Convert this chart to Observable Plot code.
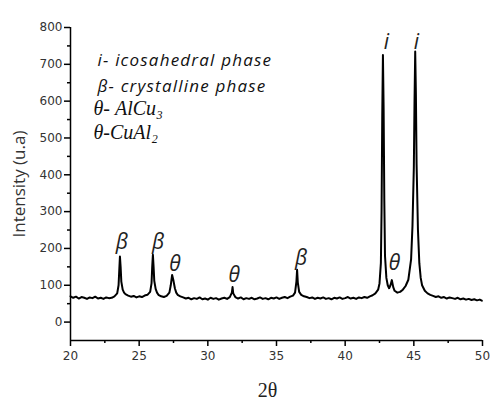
<!DOCTYPE html>
<html>
<head>
<meta charset="utf-8">
<script src="https://cdn.jsdelivr.net/npm/d3@7"></script>
<script src="https://cdn.jsdelivr.net/npm/@observablehq/plot@0.6"></script>
<style>
  html, body { margin: 0; padding: 0; background: #fff; }
  #chart { width: 500px; height: 412px; }
</style>
</head>
<body>
<div id="chart"></div>
<script>
const twoTheta = [
  20.0,20.2,20.4,20.6,20.8,21.0,21.2,21.4,21.6,21.8,22.0,22.2,22.4,22.6,22.8,23.0,23.2,23.4,23.5,23.55,23.6,23.65,23.7,23.8,23.9,
  24.0,24.2,24.4,24.6,24.8,25.0,25.2,25.4,25.6,25.8,25.9,25.95,26.0,26.05,26.1,26.2,26.3,26.4,26.6,26.8,27.0,27.2,27.3,27.4,27.5,27.6,27.7,27.8,
  28.0,28.2,28.4,28.6,28.8,29.0,29.2,29.4,29.6,29.8,30.0,30.2,30.4,30.6,30.8,31.0,31.2,31.4,31.6,31.75,31.8,31.85,
  32.0,32.2,32.4,32.6,32.8,33.0,33.2,33.4,33.6,33.8,34.0,34.2,34.4,34.6,34.8,35.0,35.2,35.4,35.6,35.8,36.0,36.2,36.35,36.45,36.5,36.55,36.65,36.8,
  37.0,37.2,37.4,37.6,37.8,38.0,38.2,38.4,38.6,38.8,39.0,39.2,39.4,39.6,39.8,40.0,40.2,40.4,40.6,40.8,41.0,41.2,41.4,41.6,41.8,
  42.0,42.2,42.4,42.5,42.6,42.65,42.7,42.75,42.8,42.85,42.9,43.0,43.1,43.2,43.3,43.4,43.5,43.6,43.8,
  44.0,44.2,44.4,44.6,44.8,44.9,45.0,45.05,45.1,45.15,45.2,45.3,45.4,45.5,45.6,45.8,
  46.0,46.2,46.4,46.6,46.8,47.0,47.2,47.4,47.6,47.8,48.0,48.2,48.4,48.6,48.8,49.0,49.2,49.4,49.6,49.8,49.95
];
const intensity = [
  70,66,69,64,68,66,63,67,65,69,64,66,63,67,65,66,70,78,100,140,178,150,110,88,80,
  76,72,69,71,67,70,68,72,74,82,105,150,183,150,112,90,80,74,70,68,71,80,100,128,112,92,80,74,
  70,67,64,66,62,65,63,67,62,64,61,66,63,65,61,64,66,63,68,80,95,78,
  68,64,67,62,65,63,66,62,64,67,63,65,62,66,64,67,63,66,68,65,69,72,80,110,142,108,82,74,
  70,68,65,67,63,66,64,67,63,65,62,66,64,67,63,65,68,64,66,63,67,65,68,66,70,
  73,78,88,105,160,300,560,725,580,330,180,120,100,92,100,114,95,85,80,
  82,88,98,115,170,260,420,600,735,620,430,250,160,120,100,85,
  78,74,71,68,70,66,68,64,67,65,63,66,62,64,61,63,60,62,59,61,58
];

// peak annotations (phase symbol placed above each reflection)
const peakLabel = ["β","β","θ","θ","β","i","θ","i"];
const peakX     = [23.74,26.37,27.61,31.92,36.79,43.0,43.6,45.18];
const peakY     = [217,217,157,127,173,759,160,759];

// legend lines
const legendSans  = ["i- icosahedral phase","β- crystalline phase"];
const legendSerif = ["θ- AlCu₃","θ-CuAl₂"];

// ticks
const xTicks = [20,25,30,35,40,45,50];
const xMinor = [22.5,27.5,32.5,37.5,42.5,47.5];
const yTicks = [0,100,200,300,400,500,600,700,800];
const yMinor = [50,150,250,350,450,550,650,750];

const pattern = twoTheta.map((t, i) => ({t, v: intensity[i]}));
const peaks = peakLabel.map((s, i) => ({s, x: peakX[i], y: peakY[i]}));

const sansItalic = {frameAnchor: "top-left", textAnchor: "start", lineAnchor: "middle", fontSize: 17, fontStyle: "italic", fontFamily: "'Open Sans', sans-serif", fill: "#111"};
const serifItalic = {frameAnchor: "top-left", textAnchor: "start", lineAnchor: "middle", fontSize: 20, fontStyle: "italic", fontFamily: "'Liberation Serif', serif", fill: "#111"};

const chart = Plot.plot({
  width: 500,
  height: 412,
  marginLeft: 70,
  marginRight: 18,
  marginTop: 27,
  marginBottom: 72,
  x: {domain: [20, 50]},
  y: {domain: [-50, 800]},
  style: {fontFamily: "'DejaVu Sans', sans-serif", background: "#fff", color: "#222"},
  marks: [
    Plot.axisX({ticks: xTicks, tickSize: 6, tickPadding: 5, fontSize: 12, label: null, stroke: "#000", strokeWidth: 1.5, fill: "#333"}),
    Plot.axisX({ticks: xMinor, tickSize: 3, text: null, label: null, stroke: "#000", strokeWidth: 1.5}),
    Plot.axisY({ticks: yTicks, tickSize: 6, tickPadding: 2, fontSize: 12, label: null, stroke: "#000", strokeWidth: 1.5, fill: "#333"}),
    Plot.axisY({ticks: yMinor, tickSize: 3, text: null, label: null, stroke: "#000", strokeWidth: 1.5}),
    Plot.ruleX([20], {y1: -50, y2: 800, stroke: "#000", strokeWidth: 1.5}),
    Plot.ruleY([-50], {x1: 20, x2: 50, stroke: "#000", strokeWidth: 1.5}),
    Plot.line(pattern, {x: "t", y: "v", stroke: "#000", strokeWidth: 2, strokeLinejoin: "round"}),
    Plot.text(peaks, {x: "x", y: "y", text: "s", fontSize: 21, fontStyle: "italic", fontFamily: "'Open Sans', sans-serif", fill: "#222"}),
    Plot.text([legendSans[0]], {...sansItalic, dx: 27, dy: 33}),
    Plot.text([legendSans[1]], {...sansItalic, dx: 27, dy: 59}),
    Plot.text([legendSerif[0]], {...serifItalic, dx: 23, dy: 81}),
    Plot.text([legendSerif[1]], {...serifItalic, dx: 23, dy: 105}),
    Plot.text(["2θ"], {frameAnchor: "bottom", dx: -9, dy: 56, fontSize: 20, fontFamily: "'Liberation Serif', serif", fill: "#222"}),
    Plot.text(["Intensity (u.a)"], {frameAnchor: "left", textAnchor: "middle", rotate: -90, dx: -51, fontSize: 17, fontFamily: "'Open Sans', sans-serif", fill: "#333"})
  ]
});
// widen the sans legend lines a little, as in the reference
d3.select(chart).selectAll("text")
  .filter(function () { return legendSans.includes(this.textContent); })
  .style("letter-spacing", "1.2px");
document.getElementById("chart").appendChild(chart);
</script>
</body>
</html>
